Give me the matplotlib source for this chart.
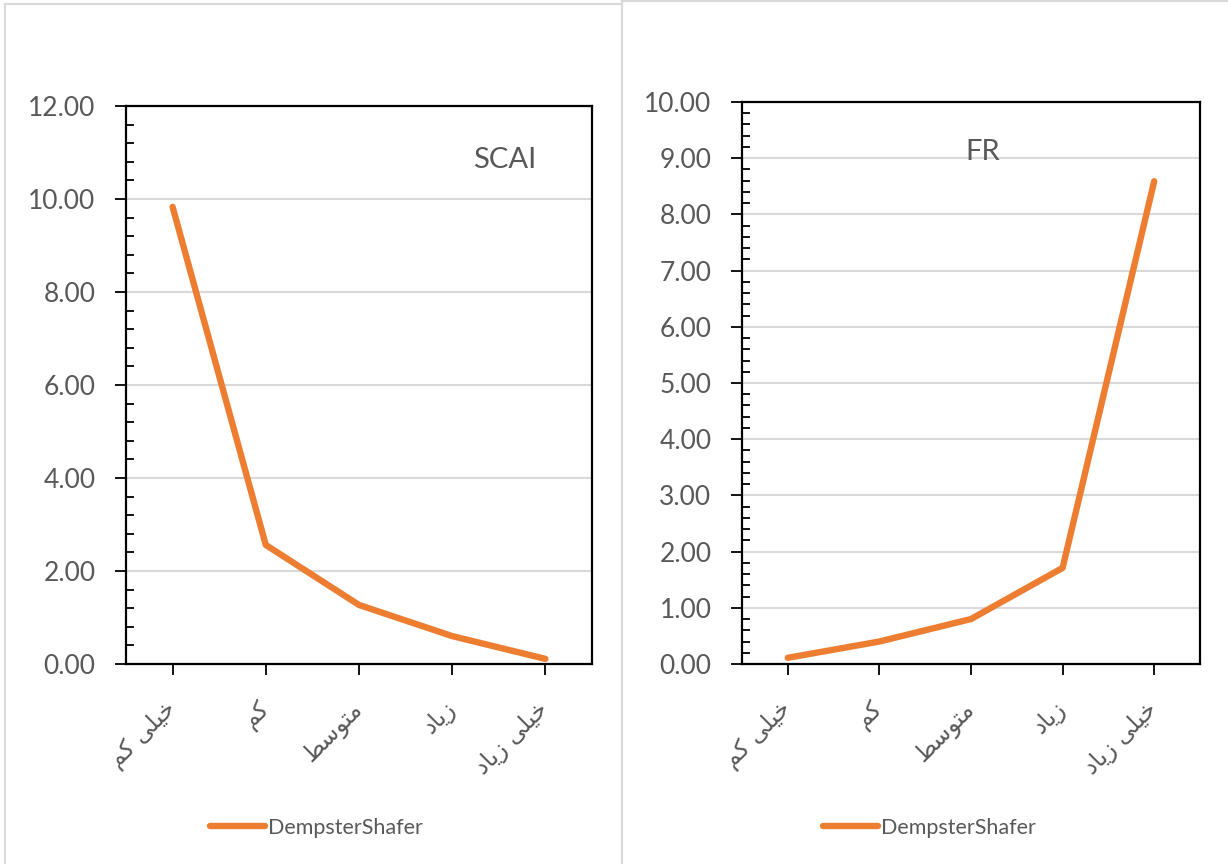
import numpy as np
import matplotlib
matplotlib.use("Agg")
import matplotlib.pyplot as plt
from matplotlib.lines import Line2D
from matplotlib.ticker import MultipleLocator, FormatStrFormatter

# -------------------------------------------------------------------------
# DATA
# -------------------------------------------------------------------------
# Persian category labels, written in presentation forms (visual order),
# because matplotlib does no Arabic shaping on its own
cat_labels = [
    "\uFEE2\uFB90 \uFBFD\uFEE0\uFBFF\uFEA7",            # خیلی کم
    "\uFEE2\uFB90",                                     # کم
    "\uFEC2\uFEB3\uFEEE\uFE98\uFEE3",                   # متوسط
    "\uFEA9\uFE8E\uFBFE\uFEAF",                         # زیاد
    "\uFEA9\uFE8E\uFBFE\uFEAF \uFBFD\uFEE0\uFBFF\uFEA7",  # خیلی زیاد
]
series_name = "DempsterShafer"

scai_title = "SCAI"
scai_values = [9.83, 2.56, 1.27, 0.60, 0.11]

fr_title = "FR"
fr_values = [0.11, 0.40, 0.80, 1.71, 8.59]

# -------------------------------------------------------------------------
# STYLE
# -------------------------------------------------------------------------
plt.rcParams["font.family"] = ["Lato", "DejaVu Sans"]
orange = "#ED7D31"
txt_gray = "#595959"
grid_gray = "#D9D9D9"

fig = plt.figure(figsize=(12.28, 8.64), dpi=100)

# panel borders (two chart boxes side by side)
fig.add_artist(Line2D([5 / 1228, 5 / 1228], [0, 1 - 4 / 864], color=grid_gray, lw=1.5))
fig.add_artist(Line2D([5 / 1228, 622 / 1228], [1 - 4 / 864, 1 - 4 / 864], color=grid_gray, lw=1.5))
fig.add_artist(Line2D([622 / 1228, 622 / 1228], [0, 1 - 1 / 864], color=grid_gray, lw=1.5))
fig.add_artist(Line2D([622 / 1228, 1], [1 - 1 / 864, 1 - 1 / 864], color=grid_gray, lw=1.5))


def draw_panel(rect, values, title, title_xy, ymax, major, minor, legend_x):
    ax = fig.add_axes(rect)
    x = np.arange(len(values))
    ax.plot(x, values, color=orange, lw=4.6, solid_capstyle="round",
            solid_joinstyle="round", label=series_name, zorder=3)

    ax.set_xlim(-0.5, len(values) - 0.5)
    ax.set_ylim(0, ymax)
    ax.yaxis.set_major_locator(MultipleLocator(major))
    ax.yaxis.set_minor_locator(MultipleLocator(minor))
    ax.yaxis.set_major_formatter(FormatStrFormatter("%.2f"))
    ax.grid(axis="y", which="major", color=grid_gray, lw=1.5, zorder=0)

    for s in ax.spines.values():
        s.set_color("black")
        s.set_linewidth(1.6)

    ax.tick_params(axis="y", which="major", direction="out", length=8, width=1.3,
                   labelsize=19, labelcolor=txt_gray, pad=14)
    ax.tick_params(axis="y", which="minor", direction="in", length=6, width=1.3)
    ax.tick_params(axis="x", which="major", direction="out", length=8, width=1.3,
                   labelsize=17, labelcolor=txt_gray, pad=22)

    ax.set_xticks(x)
    ax.set_xticklabels(cat_labels, rotation=45, ha="right", va="center",
                       rotation_mode="anchor", family=["DejaVu Sans"])

    ax.text(title_xy[0], title_xy[1], title, transform=fig.transFigure,
            ha="center", va="center", fontsize=21, color=txt_gray)

    ax.legend(loc="center", bbox_to_anchor=(legend_x, 36 / 864),
              bbox_transform=fig.transFigure, frameon=False, fontsize=15.5,
              handlelength=2.6, handletextpad=0.1, labelcolor=txt_gray)
    return ax


draw_panel([126 / 1228, 1 - 664 / 864, 466 / 1228, 558 / 864],
           scai_values, scai_title, (505 / 1228, 1 - 160 / 864),
           12, 2, 0.4, 316 / 1228)

draw_panel([742 / 1228, 1 - 664 / 864, 458 / 1228, 562 / 864],
           fr_values, fr_title, (983 / 1228, 1 - 152 / 864),
           10, 1, 0.2, 929 / 1228)

fig.savefig("out.png", dpi=100)
